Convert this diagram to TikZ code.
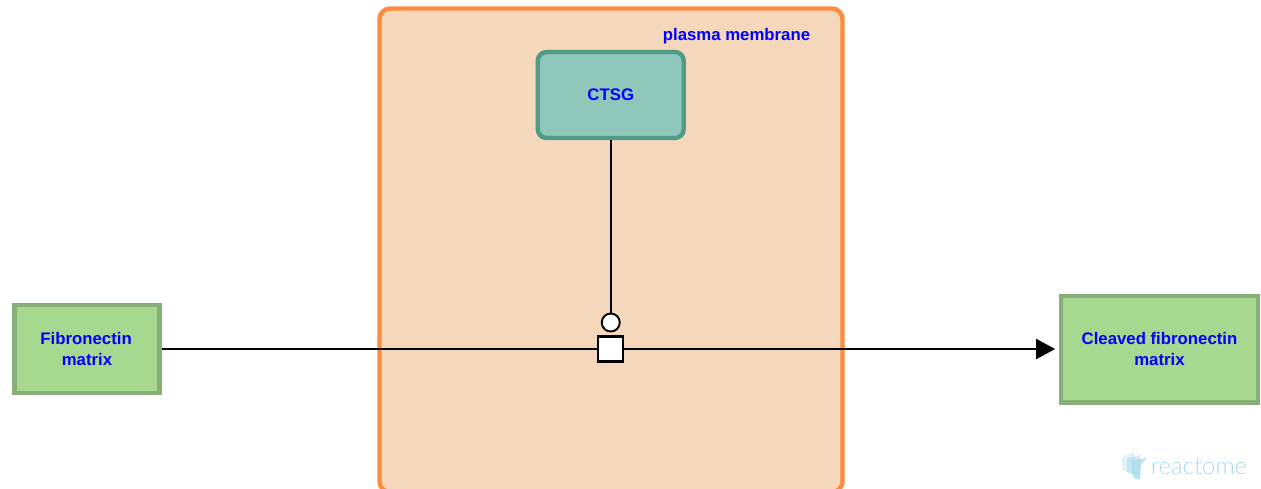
\documentclass[tikz,border=0pt]{standalone}
\usepackage{fontspec}
\setmainfont{Liberation Sans}
\newfontfamily\logofont{Lato Light}
\usetikzlibrary{shapes,backgrounds,arrows.meta}

\definecolor{memfill}{HTML}{F5D7BB}
\definecolor{memline}{HTML}{FF8C3C}
\definecolor{cplxfill}{HTML}{A6D88F}
\definecolor{cplxline}{HTML}{88AF78}
\definecolor{protfill}{HTML}{8FC7BB}
\definecolor{protline}{HTML}{4F9B88}
\definecolor{logoblue}{HTML}{A9DCEC}

\tikzset{
	label text/.style={text=blue, font=\fontsize{9.55pt}{12.2pt}\selectfont\bfseries, align=center},
	complexbox/.style={label text, draw=cplxline, fill=cplxfill, line width=2.3pt, inner sep=0pt},
	proteinbox/.style={label text, draw=protline, fill=protfill, line width=2.5pt, inner sep=0pt, rounded corners=5pt},
	reaction/.style={line width=1.1pt, draw=black}
}

\begin{document}
\begin{tikzpicture}[x=0.02cm, y=-0.02cm]
			\useasboundingbox (0, 0) rectangle (1261, 488);
			\coordinate (fibpos) at (87, 349);
			\coordinate (cleavedpos) at (1159.5, 349);
			\coordinate (ctsgpos) at (610.75, 95);
			\coordinate (procpos) at (610.75, 349);
			\coordinate (catpos) at (610.75, 322.5);
			
			% compartment
			\draw[memline, fill=memfill, line width=2.5pt, rounded corners=6pt] (379.5, 8.5) rectangle (842.5, 492);
			\node[label text] (memlabel) at (736.5, 36) {plasma membrane};
			
			\node[complexbox, minimum width=2.9cm, minimum height=1.76cm] (fib) at (fibpos) {\raisebox{-0.6pt}{Fibronectin\hspace{1pt}}\\matrix\hspace{1pt}};
			\node[complexbox, minimum width=3.94cm, minimum height=2.14cm] (cleaved) at (cleavedpos) {\raisebox{-0.6pt}{Cleaved fibronectin}\\matrix};
			\node[proteinbox, minimum width=2.92cm, minimum height=1.72cm] (ctsg) at (ctsgpos) {\raisebox{-0.6pt}{CTSG}};
			
			\node[draw=black, fill=white, line width=1.2pt, minimum size=0.5cm, inner sep=0pt] (proc) at (procpos) {};
			\node[circle, draw=black, fill=white, line width=1.1pt, minimum size=0.36cm, inner sep=0pt] (cat) at (catpos) {};
			
			\draw[reaction] (fib) -- (proc);
			\draw[reaction, -{Triangle[length=0.38cm, width=0.4cm]}, shorten >=2.2pt] (proc) -- (cleaved);
			\draw[reaction] (ctsg) -- (cat);
			
			% logo
			\fill[logoblue, opacity=0.35] (1122, 457) -- (1134, 452) -- (1134, 474) -- (1128, 472) -- (1122, 470) -- cycle;
			\fill[logoblue, opacity=0.55] (1127, 458) -- (1140, 455) -- (1140, 477) -- (1133, 475) -- (1127, 472) -- cycle;
			\fill[logoblue, opacity=0.8] (1132, 460) -- (1147, 458) -- (1141, 464) -- (1140, 480) -- (1134, 478) -- (1132, 472) -- cycle;
			\node[text=logoblue, font=\logofont\fontsize{13.6pt}{15pt}\selectfont, inner sep=0pt] (logo) at (1199, 467) {reactome};
			\end{tikzpicture}
\end{document}
